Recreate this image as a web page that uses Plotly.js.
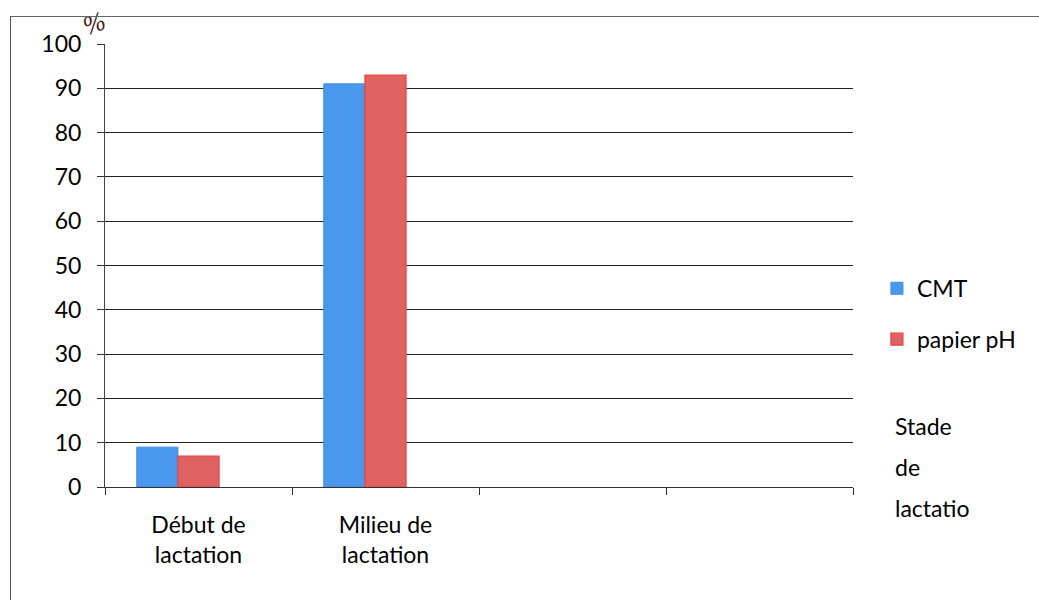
<!DOCTYPE html>
<html>
<head>
<meta charset="utf-8">
<script src="https://cdn.plot.ly/plotly-3.0.1.min.js"></script>
<style>
  html, body { margin: 0; padding: 0; background: #fff; }
  #wrap { position: relative; width: 1039px; height: 600px; overflow: hidden; }
  #frame { position: absolute; left: 10px; top: 16px; right: -5px; bottom: -5px;
           border-top: 1.5px solid #666; border-left: 1.5px solid #555; pointer-events: none; }
  #chart { position: absolute; left: 0; top: 0; width: 1039px; height: 600px; }
</style>
</head>
<body>
<div id="wrap">
  <div id="chart"></div>
  <div id="frame"></div>
</div>
<script>
// Stades de lactation (two empty slots keep the category axis at four positions)
const categories = ['debut', 'milieu', 'vide1', 'vide2'];
const tickLabels = ['Début de<br>lactation', 'Milieu de<br>lactation', '', ''];

// Pourcentages par méthode de dépistage
const seriesNames = ['CMT', 'papier pH'];
const cmtValues = [9, 91, null, null];
const phValues = [7, 93, null, null];

const yTicks = [0, 10, 20, 30, 40, 50, 60, 70, 80, 90, 100];
const axisTitleWords = ['Stade', 'de', 'lactatio'];

const FONT = 'Lato, "Open Sans", sans-serif';
const TEXT = '#000';
const SIZE = 23;

const traces = [
  {
    type: 'bar', name: seriesNames[0], x: categories, y: cmtValues,
    width: 0.22, offset: -0.33, legendgroup: 'a',
    marker: { color: '#4A98EE', line: { color: '#3F8CE6', width: 1 } },
    hoverinfo: 'y'
  },
  {
    type: 'bar', name: seriesNames[1], x: categories, y: phValues,
    width: 0.22, offset: -0.11, legendgroup: 'b',
    marker: { color: '#DE6262', line: { color: '#EC4343', width: 1.2 } },
    hoverinfo: 'y'
  }
];

const wordY = [0.138, 0.045, -0.047];
const annotations = axisTitleWords.map((w, i) => ({
  text: w, xref: 'paper', yref: 'paper', x: 1.054, y: wordY[i],
  xanchor: 'left', yanchor: 'middle', showarrow: false,
  font: { family: FONT, size: SIZE, color: TEXT }
}));
annotations.push({
  text: '<i>%</i>', xref: 'paper', yref: 'paper', x: -0.014, y: 1.045,
  xanchor: 'center', yanchor: 'middle', showarrow: false, textangle: -20,
  font: { family: 'DejaVu Serif, serif', size: 24, color: '#4a2118' }
});

const layout = {
  width: 1039, height: 600,
  margin: { l: 105, r: 186, t: 44, b: 113 },
  paper_bgcolor: '#fff', plot_bgcolor: '#fff',
  barmode: 'overlay',
  showlegend: true,
  legend: {
    x: 1.032, y: 0.497, xanchor: 'left', yanchor: 'top',
    traceorder: 'grouped', tracegroupgap: 18,
    font: { family: FONT, size: SIZE, color: TEXT },
    bgcolor: 'rgba(0,0,0,0)'
  },
  xaxis: {
    type: 'category', categoryorder: 'array', categoryarray: categories,
    tickmode: 'array', tickvals: categories, ticktext: tickLabels,
    tickson: 'boundaries', ticks: 'outside', ticklen: 7, tickwidth: 1, tickcolor: '#333',
    showline: true, linecolor: '#333', linewidth: 1,
    showgrid: false, zeroline: false,
    ticklabelstandoff: 17,
    tickfont: { family: FONT, size: SIZE, color: TEXT },
    range: [-0.5, 3.5], fixedrange: true
  },
  yaxis: {
    range: [0, 100], tickmode: 'array', tickvals: yTicks,
    ticktext: yTicks.map(String),
    ticks: 'outside', ticklen: 7, tickwidth: 1, tickcolor: '#333',
    showline: true, linecolor: '#444', linewidth: 1,
    showgrid: true, gridcolor: '#222', gridwidth: 1,
    zeroline: false,
    ticklabelstandoff: 11,
    tickfont: { family: FONT, size: SIZE, color: TEXT },
    fixedrange: true
  },
  annotations: annotations
};

Plotly.newPlot('chart', traces, layout, { staticPlot: true, displayModeBar: false });
</script>
</body>
</html>
